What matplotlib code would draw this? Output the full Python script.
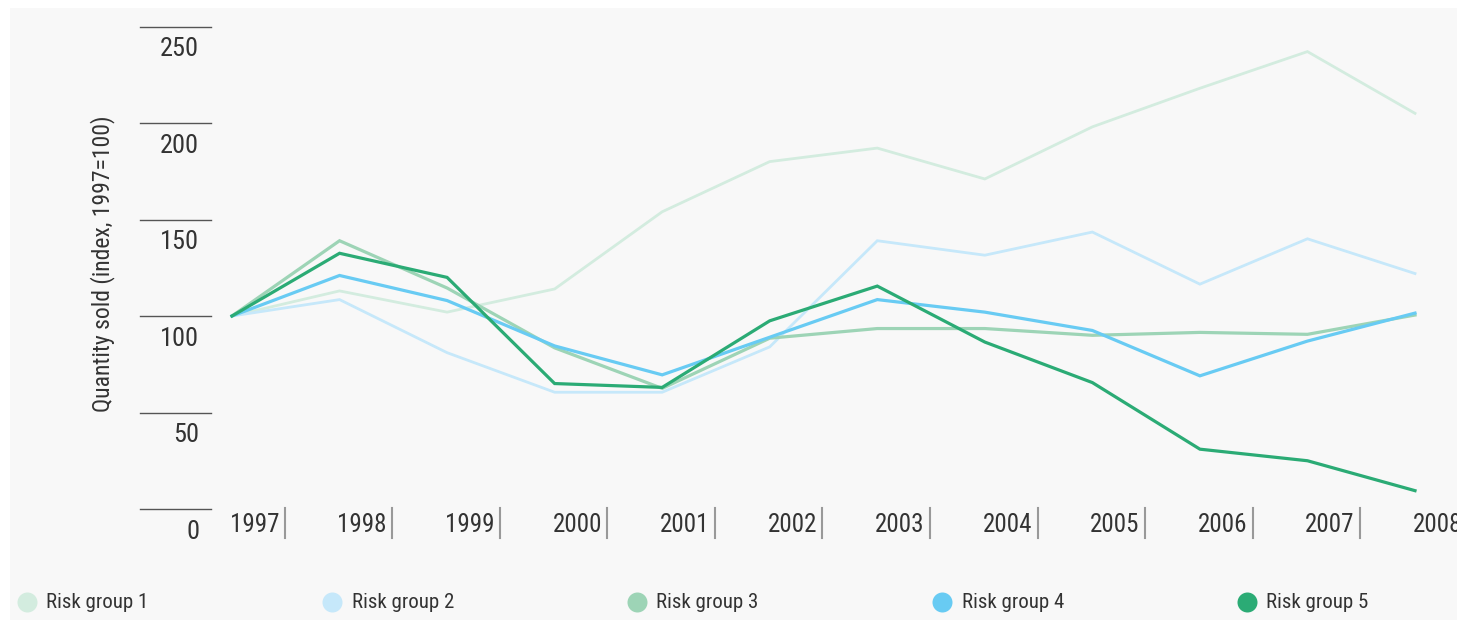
import matplotlib
matplotlib.use("Agg")
import matplotlib.pyplot as plt
from matplotlib.patches import Rectangle
from matplotlib.lines import Line2D

years = ["1997", "1998", "1999", "2000", "2001", "2002", "2003", "2004", "2005", "2006", "2007", "2008"]
y_ticks = [0, 50, 100, 150, 200, 250]

group_names = ["Risk group 1", "Risk group 2", "Risk group 3", "Risk group 4", "Risk group 5"]
group1 = [100, 113, 102, 114, 154, 180, 187, 171, 198, 218, 237, 205]
group2 = [100, 108.5, 81, 60.5, 60.5, 84, 139, 131.5, 143.5, 116.5, 140, 122]
group3 = [100, 139, 114.5, 83.5, 62.5, 88.5, 93.5, 93.5, 90, 91.5, 90.5, 100.5]
group4 = [100, 121, 108, 84.5, 69.5, 89, 108.5, 102, 92.5, 69, 87, 101.5]
group5 = [100, 132.5, 120, 65, 63, 97.5, 115.5, 86.5, 65.5, 31, 25, 9.5]
colors = ["#d3ecdf", "#c6e8fa", "#9dd4b6", "#68cbf3", "#2bab75"]

plt.rcParams["font.family"] = ["Roboto Condensed", "DejaVu Sans"]
TXT = "#333333"

W, H = 1457, 620
fig = plt.figure(figsize=(W / 100, H / 100), dpi=100, facecolor="white")
# light grey panel behind everything
fig.add_artist(Rectangle((10 / W, 0), 1 - 10 / W, 1 - 8 / H, transform=fig.transFigure,
                         facecolor="#f8f8f8", edgecolor="none", zorder=-10))

ax = fig.add_axes([232 / W, 1 - 509 / H, (1415 - 232) / W, (509 - 26.5) / H])
ax.set_facecolor("none")
ax.set_xlim(0, 11)
ax.set_ylim(0, 250)
for s in ax.spines.values():
	s.set_visible(False)
ax.set_xticks([])
ax.set_yticks([])

x = list(range(len(years)))
for vals, col, name in zip([group1, group2, group3, group4, group5], colors, group_names):
	lw = 2.0 if col in colors[:2] else 2.3
	ax.plot(x, vals, color=col, lw=lw, clip_on=False, solid_joinstyle="miter", label=name)

# y "ticks": short lines to the left with labels hanging underneath
ytr = ax.get_yaxis_transform()
for v in y_ticks:
	ax.plot([-0.0778, -0.0178], [v, v], color="#555555", lw=1.0, transform=ytr, clip_on=False)
	ax.text(-0.0277, v - 11.8, str(v), transform=ytr, ha="right", va="center",
			fontsize=19, color=TXT)

ax.text(-0.1095, 127, "Quantity sold (index, 1997=100)", transform=ytr, rotation=90,
		ha="center", va="center", fontsize=17, color=TXT)

# year labels with a bar at the end of each band
for i, yr in enumerate(years):
	ax.text(i + 0.44, -8.3, yr, ha="right", va="center", fontsize=18, color=TXT, clip_on=False)
	if i < len(years) - 1:
		ax.plot([i + 0.49, i + 0.49], [0.7, -15], color="#999999", lw=1.5, clip_on=False)

# legend row
for k, (name, col) in enumerate(zip(group_names, colors)):
	lx = (26.5 + 305 * k) / W
	ly = 1 - 602 / H
	fig.add_artist(Line2D([lx], [ly], marker="o", markersize=14.4, color=col, markeredgewidth=0,
						  transform=fig.transFigure))
	fig.text(lx + 20 / W, ly, name, ha="left", va="center", fontsize=15, color=TXT)

fig.savefig("out.png", dpi=100, facecolor="white")
